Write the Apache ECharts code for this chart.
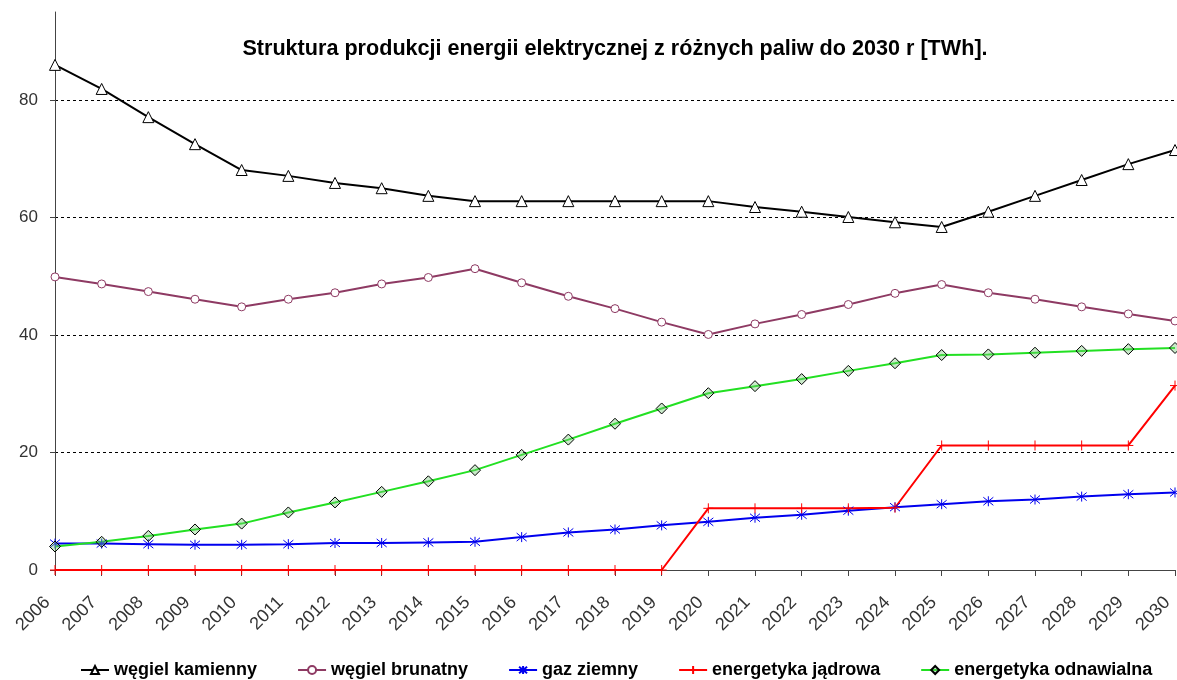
<!DOCTYPE html>
<html>
<head>
<meta charset="utf-8">
<script src="https://cdn.jsdelivr.net/npm/echarts@6/dist/echarts.min.js"></script>
<style>
html,body{margin:0;padding:0;background:#fff;}
#chart{width:1177px;height:680px;}
</style>
</head>
<body>
<div id="chart"></div>
<script>
const years = ['2006','2007','2008','2009','2010','2011','2012','2013','2014','2015','2016','2017','2018','2019','2020','2021','2022','2023','2024','2025','2026','2027','2028','2029','2030'];
const wegielKamienny = [86.0,81.9,77.1,72.5,68.1,67.1,65.9,65.0,63.7,62.8,62.8,62.8,62.8,62.8,62.8,61.8,61.0,60.1,59.2,58.4,61.0,63.7,66.4,69.1,71.5];
const wegielBrunatny = [49.9,48.7,47.4,46.1,44.8,46.1,47.2,48.7,49.8,51.3,48.9,46.6,44.5,42.2,40.1,41.9,43.5,45.2,47.1,48.6,47.2,46.1,44.8,43.6,42.4];
const gazZiemny = [4.5,4.5,4.4,4.3,4.3,4.4,4.6,4.6,4.7,4.8,5.6,6.4,6.9,7.6,8.2,8.9,9.4,10.1,10.7,11.2,11.7,12.0,12.5,12.9,13.2];
const energetykaJadrowa = [0,0,0,0,0,0,0,0,0,0,0,0,0,0,10.5,10.5,10.5,10.5,10.6,21.2,21.2,21.2,21.2,21.2,31.4];
const energetykaOdnawialna = [4.0,4.8,5.8,6.9,7.9,9.8,11.5,13.3,15.1,17.0,19.6,22.2,24.9,27.5,30.1,31.3,32.5,33.9,35.2,36.6,36.7,37.0,37.3,37.6,37.8];
const seriesNames = ['węgiel kamienny','węgiel brunatny','gaz ziemny','energetyka jądrowa','energetyka odnawialna'];
const titleText = 'Struktura produkcji energii elektrycznej z różnych paliw do 2030 r [TWh].';

const FONT = '"Liberation Sans", Arial, sans-serif';
const asterisk = 'path://M5,0 L5,10 M1,1 L9,9 M9,1 L1,9';
const plus = 'path://M5,0 L5,10 M0,5 L10,5';

const chart = echarts.init(document.getElementById('chart'), null, {renderer:'canvas'});
function mk(name, data, color, symbol, size, fill, border) {
  return {
    name: name, type: 'line', data: data,
    symbol: symbol, symbolSize: size, showSymbol: true,
    lineStyle: {color: color, width: 2},
    itemStyle: {color: fill, borderColor: border, borderWidth: 1},
    emphasis: {disabled: true},
    animation: false
  };
}
chart.setOption({
  animation: false,
  backgroundColor: '#fff',
  title: {
    text: titleText,
    left: 610, top: 33, textAlign: 'center',
    textStyle: {fontFamily: FONT, fontSize: 21.6, fontWeight: 'bold', color: '#000'}
  },
  grid: {left: 55, right: 2, top: 12, bottom: 110, containLabel: false, outerBoundsMode: 'none'},
  legend: {
    top: 656, left: 75,
    itemGap: 40, itemWidth: 28, itemHeight: 10,
    textStyle: {fontFamily: FONT, fontSize: 18, fontWeight: 'bold', color: '#000'},
    data: seriesNames
  },
  xAxis: {
    type: 'category', data: years, boundaryGap: false,
    axisLine: {lineStyle: {color: '#444', width: 1}},
    axisTick: {show: true, length: 6, alignWithLabel: true, lineStyle: {color: '#444'}},
    axisLabel: {rotate: 45, interval: 0, margin: 22, padding: [0, 11, 0, 0], fontFamily: FONT, fontSize: 18, color: '#333'},
    splitLine: {show: false}
  },
  yAxis: {
    type: 'value', min: 0, max: 95, interval: 20,
    axisLine: {show: true, lineStyle: {color: '#444', width: 1}},
    axisTick: {show: true, length: 5, lineStyle: {color: '#444'}},
    axisLabel: {fontFamily: FONT, fontSize: 17, color: '#333', margin: 17, showMaxLabel: false,
      formatter: function(v){ return v % 20 === 0 ? String(v) : ''; }},
    splitLine: {show: true, showMinLine: false, showMaxLine: false, lineStyle: {color: '#000', type: [3,3], width: 1}}
  },
  series: [
    mk(seriesNames[0], wegielKamienny, '#000000', 'triangle', 11, '#ffffff', '#000000'),
    mk(seriesNames[1], wegielBrunatny, '#8e3a63', 'circle', 8, '#ffffff', '#8e3a63'),
    mk(seriesNames[2], gazZiemny, '#0000ee', asterisk, 10, '#0000ee', '#0000ee'),
    mk(seriesNames[3], energetykaJadrowa, '#ff0000', plus, 10, '#ff0000', '#ff0000'),
    mk(seriesNames[4], energetykaOdnawialna, '#22e022', 'diamond', 11, 'rgba(120,200,120,0.4)', '#000000')
  ]
});
</script>
</body>
</html>
